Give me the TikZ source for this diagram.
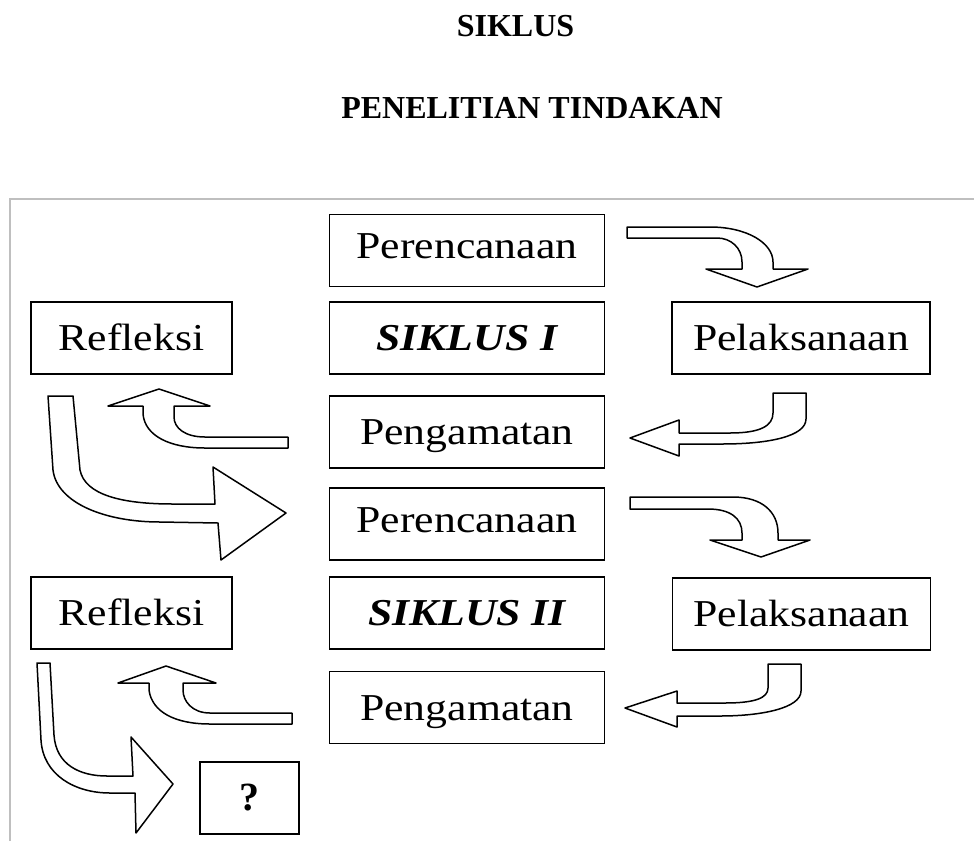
\documentclass[tikz,border=0pt]{standalone}
\usepackage{fontspec}
\setmainfont{Liberation Serif}
\newfontfamily\boxfont[FakeStretch=1.15]{Liberation Serif}
\begin{document}
\begin{tikzpicture}[x=1pt,y=-1pt,
  box/.style={draw, line width=1.7pt, rectangle, inner sep=0pt,
    text height=25pt, text depth=0pt,
    font=\boxfont\fontsize{38}{40}\selectfont},
  wide/.style={minimum width=275pt, minimum height=72pt},
  side/.style={minimum width=201pt, minimum height=72pt},
  pel/.style={minimum width=258pt, minimum height=72pt},
  raised/.style={text depth=9pt},
  blockarrow/.style={draw, fill=white, line width=1.5pt, line join=round},
  titletext/.style={anchor=base, inner sep=0pt, font=\bfseries\fontsize{32}{34}\selectfont},
  frameline/.style={draw=black!25, line width=1.5pt}]
\useasboundingbox (0,0) rectangle (974,841);

% titles
\node[titletext] (t1) at (515.5,36) {SIKLUS};
\node[titletext] (t2) at (532,118) {PENELITIAN TINDAKAN};

% frame
\coordinate (fbl) at (10,841);
\coordinate (ftl) at (10,199);
\coordinate (ftr) at (974,199);
\draw[frameline] (fbl) -- (ftl) -- (ftr);

% cycle I
\node[box, wide, raised] (per1) at (467,250.5) {Perencanaan};
\node[box, side] (ref1) at (131.5,338) {Refleksi};
\node[box, wide] (sik1) at (467,338) {\bfseries\itshape SIKLUS I};
\node[box, pel]  (pel1) at (801,338) {Pelaksanaan};
\node[box, wide] (pen1) at (467,432) {Pengamatan};

% cycle II
\node[box, wide, raised] (per2) at (467,524) {Perencanaan};
\node[box, side] (ref2) at (131.5,613) {Refleksi};
\node[box, wide] (sik2) at (467,613) {\bfseries\itshape SIKLUS II};
\node[box, pel]  (pel2) at (801.5,614) {Pelaksanaan};
\node[box, wide] (pen2) at (467,707.5) {Pengamatan};

% question box
\node[box, minimum width=99pt, minimum height=72pt, font=\bfseries\fontsize{40}{42}\selectfont] (q) at (249.5,798) {?};

% arrow: Perencanaan I -> Pelaksanaan I
\draw[blockarrow] (627,227) -- (710,227) .. controls (747,227) and (773,243) .. (773,262)
  -- (773,269) -- (808,269) -- (757,287) -- (706,269) -- (742,269) -- (742,262)
  .. controls (742,248) and (731,238) .. (717,238) -- (627,238) -- cycle;

% arrow: Pelaksanaan I -> Pengamatan I
\draw[blockarrow] (806,393) -- (806,419) .. controls (806,436) and (770,444) .. (722,444)
  -- (679,444) -- (679,456) -- (630,438) -- (679,420) -- (679,433) -- (730,433)
  .. controls (760,433) and (773,426) .. (773,413) -- (773,393) -- cycle;

% arrow: Pengamatan I -> Refleksi I
\draw[blockarrow] (288,437) -- (205,437) .. controls (185,437) and (174,428) .. (174,417)
  -- (174,406) -- (210,406) -- (159,389) -- (108,406) -- (143,406) -- (143,414)
  .. controls (145,436) and (170,448) .. (205,448) -- (288,448) -- cycle;

% arrow: Refleksi I -> Perencanaan II
\draw[blockarrow] (48,396) -- (73,396) -- (80,470) .. controls (85,495) and (122,504) .. (173,504)
  -- (215,504) -- (213,467) -- (286,513) -- (221,560) -- (218,523) -- (160,522)
  .. controls (105,522) and (57,503) .. (53,470) -- cycle;

% arrow: Perencanaan II -> Pelaksanaan II
\draw[blockarrow] (630,497) -- (733,497) .. controls (762,497) and (778,512) .. (778,533)
  -- (778,540) -- (810,540) -- (761,557) -- (710,540) -- (742,540) -- (742,533)
  .. controls (742,518) and (730,509) .. (708,509) -- (630,509) -- cycle;

% arrow: Pelaksanaan II -> Pengamatan II
\draw[blockarrow] (768,664) -- (801,664) -- (801,691) .. controls (801,708) and (762,716) .. (720,716)
  -- (677,716) -- (677,727) -- (625,708) -- (677,691) -- (677,703) -- (725,703)
  .. controls (755,703) and (768,698) .. (768,688) -- cycle;

% arrow: Pengamatan II -> Refleksi II
\draw[blockarrow] (292,713) -- (210,713) .. controls (192,713) and (183,701) .. (183,690)
  -- (183,683) -- (216,683) -- (166,666) -- (118,683) -- (149,683) -- (149,690)
  .. controls (152,712) and (175,724) .. (210,724) -- (292,724) -- cycle;

% arrow: Refleksi II -> ?
\draw[blockarrow] (37,663) -- (50,663) -- (54,735) .. controls (56,765) and (80,776) .. (107,776)
  -- (133,776) -- (131,737) -- (173,784) -- (136,833) -- (135,793) -- (110,793)
  .. controls (75,793) and (43,775) .. (41,740) -- cycle;
\end{tikzpicture}
\end{document}
